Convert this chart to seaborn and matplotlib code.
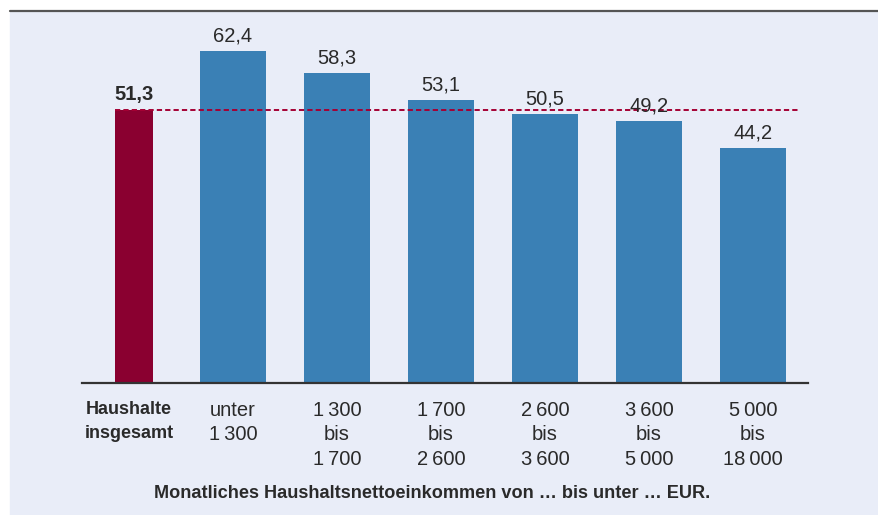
import numpy as np
import pandas as pd
import seaborn as sns
import matplotlib.pyplot as plt
from matplotlib.patches import Rectangle
from matplotlib.lines import Line2D

sns.set_style("white")
plt.rcParams['font.family'] = ['Liberation Sans', 'DejaVu Sans']

ts = '\u2009'
labels = ['Haushalte\ninsgesamt', 'unter\n1' + ts + '300',
          '1' + ts + '300\nbis\n1' + ts + '700',
          '1' + ts + '700\nbis\n2' + ts + '600',
          '2' + ts + '600\nbis\n3' + ts + '600',
          '3' + ts + '600\nbis\n5' + ts + '000',
          '5' + ts + '000\nbis\n18' + ts + '000']
values = [51.3, 62.4, 58.3, 53.1, 50.5, 49.2, 44.2]
groups = ['total', 'income', 'income', 'income', 'income', 'income', 'income']
value_text = ['51,3', '62,4', '58,3', '53,1', '50,5', '49,2', '44,2']
xlabel = 'Monatliches Haushaltsnettoeinkommen von … bis unter … EUR.'

total_color = '#8a0030'
bar_color = '#3a80b5'
bg_color = '#e9edf8'
text_color = '#2a2a2a'

df = pd.DataFrame({'label': labels, 'value': values, 'group': groups})

W, H = 879, 515
fig = plt.figure(figsize=(W / 100, H / 100), dpi=100)
fig.patches.append(Rectangle((10 / W, 0), 1 - 10 / W, 1 - 11 / H,
                             transform=fig.transFigure, color=bg_color, zorder=-10))
fig.lines.append(Line2D([10 / W, 1], [1 - 10.5 / H, 1 - 10.5 / H],
                        transform=fig.transFigure, color='#555555', lw=1.6, zorder=-5))

ax = fig.add_axes([82 / W, (H - 383) / H, (808 - 82) / W, (383 - 20) / H])
ax.set_facecolor('none')

sns.barplot(data=df, x='label', y='value', hue='group',
            palette={'total': total_color, 'income': bar_color},
            width=0.635, dodge=False, legend=False, saturation=1,
            linewidth=0, ax=ax)

# narrower, slightly shifted total bar
for p in ax.patches:
    cx = p.get_x() + p.get_width() / 2
    if abs(cx) < 0.3:
        w = 0.365
        p.set_width(w)
        p.set_x(0.048 - w / 2)

ax.set_xlim(-0.452, 6.529)
ax.set_ylim(0, 68.2)

# average line
ax.plot([-0.135, 6.45], [values[0], values[0]], color='#a50034', lw=1.4,
        ls=(0, (2.7, 1.6)), zorder=3)

for i, (v, t) in enumerate(zip(values, value_text)):
    xpos = 0.048 if i == 0 else i
    ax.annotate(t, (xpos, v), xytext=(0, 4), textcoords='offset points',
                ha='center', va='bottom', fontsize=14.5, color=text_color,
                fontweight='bold' if i == 0 else 'normal')

for s in ['top', 'right', 'left']:
    ax.spines[s].set_visible(False)
ax.spines['bottom'].set_color('#333333')
ax.spines['bottom'].set_linewidth(1.6)
ax.set_yticks([])
ax.set_ylabel('')
ax.set_xlabel('')
ax.tick_params(axis='x', length=0, pad=13, labelsize=14.5, labelcolor=text_color)
ax.set_xticks(range(len(labels)))
ax.set_xticklabels(labels, linespacing=1.36)
for i, tl in enumerate(ax.get_xticklabels()):
    tl.set_verticalalignment('top')
    if i == 0:
        tl.set_fontweight('bold')
        tl.set_fontsize(13)
        tl.set_linespacing(1.5)
        tl.set_x(0.048)

fig.text(432 / W, 1 - 494 / H, xlabel, ha='center', va='center',
         fontsize=13.1, fontweight='bold', color=text_color)

fig.savefig('out.png', dpi=100, facecolor='white')
